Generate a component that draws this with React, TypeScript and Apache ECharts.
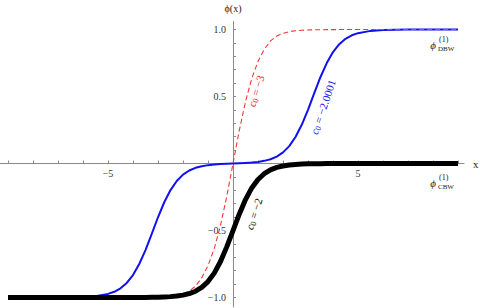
import React, { useEffect, useRef } from "react";
import * as echarts from "echarts";

const xs = [-9, -8, -7, -6.5, -6, -5.5, -5, -4.75, -4.5, -4.25, -4, -3.75, -3.5, -3.25, -3, -2.75, -2.5, -2.25, -2, -1.75, -1.5, -1.25, -1, -0.75, -0.5, -0.25, 0, 0.25, 0.5, 0.75, 1, 1.25, 1.5, 1.75, 2, 2.25, 2.5, 2.75, 3, 3.25, 3.5, 3.75, 4, 4.25, 4.5, 4.75, 5, 5.5, 6, 6.5, 7, 8, 9];

// c0 = -3 (red dashed)
const redVals = [-1, -1, -1, -1, -1, -1, -1, -1, -1, -1, -0.999, -0.999, -0.998, -0.998, -0.997, -0.995, -0.991, -0.984, -0.972, -0.952, -0.915, -0.852, -0.762, -0.635, -0.462, -0.245, 0, 0.245, 0.462, 0.635, 0.762, 0.852, 0.915, 0.952, 0.972, 0.984, 0.991, 0.995, 0.997, 0.998, 0.998, 0.999, 0.999, 1, 1, 1, 1, 1, 1, 1, 1, 1, 1];

// c0 = -2.0001 (blue)
const blueVals = [-1, -1, -1, -0.999, -0.996, -0.99, -0.973, -0.957, -0.931, -0.891, -0.832, -0.75, -0.646, -0.525, -0.401, -0.289, -0.198, -0.13, -0.083, -0.052, -0.032, -0.02, -0.012, -0.007, -0.004, -0.002, 0, 0.002, 0.004, 0.007, 0.012, 0.02, 0.032, 0.052, 0.083, 0.13, 0.198, 0.289, 0.401, 0.525, 0.646, 0.75, 0.832, 0.891, 0.931, 0.957, 0.973, 0.99, 0.996, 0.999, 1, 1, 1];

// c0 = -2 (black thick)
const blackVals = [-1, -1, -1, -1, -1, -1, -1, -1, -1, -0.9998, -0.9997, -0.9994, -0.9991, -0.9985, -0.9975, -0.9959, -0.9933, -0.989, -0.982, -0.971, -0.953, -0.924, -0.881, -0.818, -0.731, -0.622, -0.5, -0.378, -0.269, -0.182, -0.119, -0.076, -0.047, -0.029, -0.018, -0.011, -0.007, -0.004, -0.0025, -0.0015, -0.0009, -0.0006, -0.0003, -0.0002, -0.0001, 0, 0, 0, 0, 0, 0, 0, 0];

const xTicks = [-9, -8, -7, -6, -5, -4, -3, -2, -1, 1, 2, 3, 4, 5, 6, 7, 8, 9];
const xLabels = [-5, 5];
const yTicks = [-1, -0.9, -0.8, -0.7, -0.6, -0.5, -0.4, -0.3, -0.2, -0.1, 0.1, 0.2, 0.3, 0.4, 0.5, 0.6, 0.7, 0.8, 0.9, 1];
const yLabels = [-1, -0.5, 0.5, 1];

const SERIF = "'Liberation Serif', 'DejaVu Serif', serif";

// plot frame (pixels)
const GRID_LEFT = 0;
const GRID_RIGHT = 16;
const GRID_TOP = 21.5;
const GRID_BOTTOM = 1.1;
const X_MIN = -9.32;
const X_MAX = 9.24;
const Y_MIN = -1.07;
const Y_MAX = 1.06;

function fmt(v: number, digits: number) {
  const s = Math.abs(v).toFixed(digits);
  return v < 0 ? "\u2212" + s : s;
}

export default function App() {
  const ref = useRef<HTMLDivElement>(null);
  useEffect(() => {
    if (!ref.current) return;
    const chart = echarts.init(ref.current, null, { renderer: "svg" });
    const W = 480;
    const H = 308;
    const pw = W - GRID_LEFT - GRID_RIGHT;
    const ph = H - GRID_TOP - GRID_BOTTOM;
    // offsets so that the axes cross at (0, 0)
    const zeroX = GRID_LEFT + ((0 - X_MIN) / (X_MAX - X_MIN)) * pw;
    const zeroY = GRID_TOP + ((Y_MAX - 0) / (Y_MAX - Y_MIN)) * ph;
    const xOffset = -(H - GRID_BOTTOM - zeroY);
    const yOffset = -(zeroX - GRID_LEFT);
    const pair = (vals: number[]) => xs.map((x, i) => [x, vals[i]]);
    const sub = { fontSize: 8, fontFamily: SERIF, padding: [5, 0, 0, 0] };
    chart.setOption({
      animation: false,
      backgroundColor: "#ffffff",
      grid: {
        left: GRID_LEFT,
        right: GRID_RIGHT,
        top: GRID_TOP,
        bottom: GRID_BOTTOM,
        containLabel: false,
        outerBoundsMode: "none",
      },
      xAxis: {
        type: "value",
        min: X_MIN,
        max: X_MAX,
        position: "bottom",
        offset: xOffset,
        name: "x",
        nameLocation: "end",
        nameGap: 9,
        nameTextStyle: { fontFamily: SERIF, fontSize: 11, color: "#222", verticalAlign: "middle" },
        axisLine: { onZero: false, lineStyle: { color: "#8a8a8a", width: 1 } },
        axisTick: { show: true, inside: true, length: 3, customValues: xTicks, lineStyle: { color: "#8a8a8a" } },
        axisLabel: {
          customValues: xLabels,
          formatter: (v: number) => fmt(v, 0),
          fontFamily: SERIF,
          fontSize: 10,
          color: "#333",
          margin: 5,
        },
        splitLine: { show: false },
      },
      yAxis: {
        type: "value",
        min: Y_MIN,
        max: Y_MAX,
        position: "left",
        offset: yOffset,
        name: "\u03D5(x)",
        nameLocation: "end",
        nameGap: 8,
        nameTextStyle: { fontFamily: SERIF, fontSize: 10, color: "#222" },
        axisLine: { onZero: false, lineStyle: { color: "#8a8a8a", width: 1 } },
        axisTick: { show: true, inside: true, length: 3, customValues: yTicks, lineStyle: { color: "#8a8a8a" } },
        axisLabel: {
          customValues: yLabels,
          formatter: (v: number) => fmt(v, 1),
          fontFamily: SERIF,
          fontSize: 10,
          color: "#333",
          margin: 7,
        },
        splitLine: { show: false },
      },
      series: [
        {
          name: "c0 = -2.0001",
          type: "line",
          data: pair(blueVals),
          showSymbol: false,
          smooth: false,
          lineStyle: { color: "#1010f0", width: 2, join: "round" },
          z: 2,
        },
        {
          name: "c0 = -3",
          type: "line",
          data: pair(redVals),
          showSymbol: false,
          smooth: false,
          lineStyle: { color: "#f03838", width: 1.1, type: [5, 3] },
          z: 3,
        },
        {
          name: "c0 = -2",
          type: "line",
          data: pair(blackVals),
          showSymbol: false,
          smooth: false,
          lineStyle: { color: "#000000", width: 5, join: "round" },
          z: 4,
        },
      ],
      graphic: [
        {
          type: "text",
          x: 256,
          y: 91,
          rotation: (73 * Math.PI) / 180,
          style: {
            text: "{i|c}{s|0}{n| = \u22123}",
            fill: "#e02020",
            align: "center",
            verticalAlign: "middle",
            rich: {
              i: { fontFamily: SERIF, fontStyle: "italic", fontSize: 11, fill: "#e02020" },
              s: { ...sub, fill: "#e02020" },
              n: { fontFamily: SERIF, fontSize: 11, fill: "#e02020" },
            },
          },
        },
        {
          type: "text",
          x: 323,
          y: 107,
          rotation: (71 * Math.PI) / 180,
          style: {
            text: "{i|c}{s|0}{n| = \u22122.0001}",
            fill: "#1010f0",
            align: "center",
            verticalAlign: "middle",
            rich: {
              i: { fontFamily: SERIF, fontStyle: "italic", fontSize: 11, fill: "#1010f0" },
              s: { ...sub, fill: "#1010f0" },
              n: { fontFamily: SERIF, fontSize: 11, fill: "#1010f0" },
            },
          },
        },
        {
          type: "text",
          x: 254,
          y: 214,
          rotation: (72 * Math.PI) / 180,
          style: {
            text: "{i|c}{s|0}{n| = \u22122}",
            fill: "#000",
            align: "center",
            verticalAlign: "middle",
            rich: {
              i: { fontFamily: SERIF, fontStyle: "italic", fontSize: 11, fill: "#000" },
              s: { ...sub, fill: "#000" },
              n: { fontFamily: SERIF, fontSize: 11, fill: "#000" },
            },
          },
        },
        // phi DBW label
        { type: "text", x: 433, y: 45, style: { text: "\u03D5", font: `italic 11px ${SERIF}`, fill: "#222", align: "center", verticalAlign: "middle" } },
        { type: "text", x: 439, y: 39, style: { text: "(1)", font: `8px ${SERIF}`, fill: "#222", align: "left", verticalAlign: "middle" } },
        { type: "text", x: 438, y: 48.5, style: { text: "DBW", font: `7px ${SERIF}`, fill: "#222", align: "left", verticalAlign: "middle" } },
        // phi CBW label
        { type: "text", x: 433, y: 183, style: { text: "\u03D5", font: `italic 11px ${SERIF}`, fill: "#222", align: "center", verticalAlign: "middle" } },
        { type: "text", x: 439, y: 177, style: { text: "(1)", font: `8px ${SERIF}`, fill: "#222", align: "left", verticalAlign: "middle" } },
        { type: "text", x: 438, y: 186.5, style: { text: "CBW", font: `7px ${SERIF}`, fill: "#222", align: "left", verticalAlign: "middle" } },
      ],
    });
    return () => chart.dispose();
  }, []);
  return (
    <div
      ref={ref}
      style={{ position: "absolute", left: 0, top: 0, width: 480, height: 308 }}
    />
  );
}
